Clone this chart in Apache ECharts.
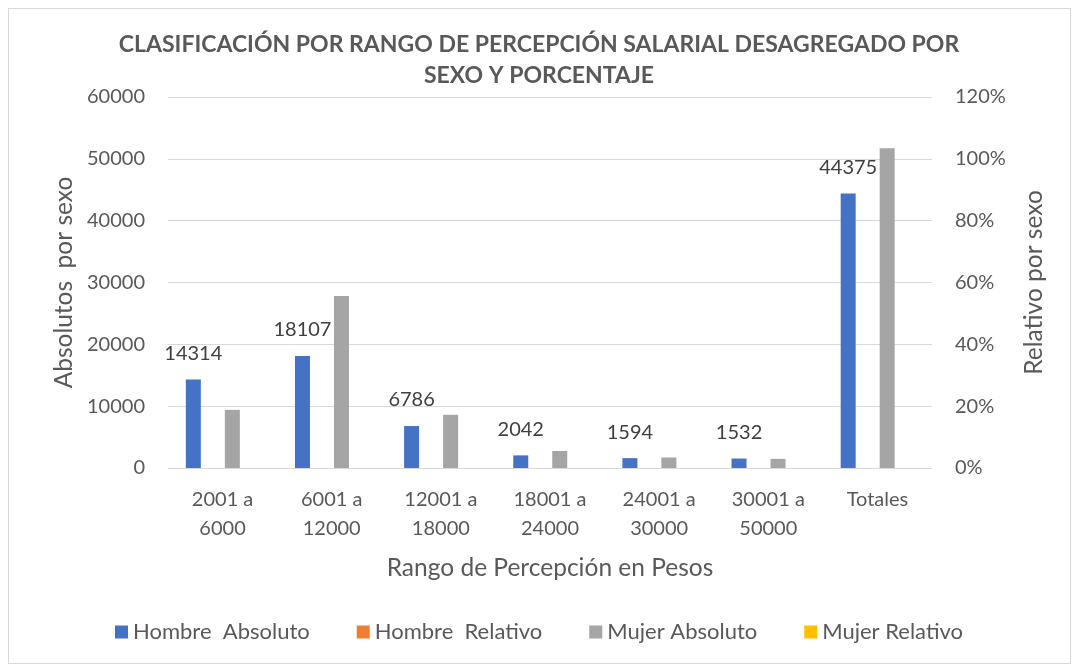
<!DOCTYPE html>
<html>
<head>
<meta charset="utf-8">
<script src="https://cdn.jsdelivr.net/npm/echarts@6/dist/echarts.min.js"></script>
<style>
  html, body { margin: 0; padding: 0; background: #fff; }
  #chart { width: 1078px; height: 671px; }
  .frame { position: absolute; left: 8px; top: 8px; width: 1061px; height: 654px; border: 1px solid #d9d9d9; pointer-events: none; }
</style>
</head>
<body>
<div id="chart"></div>
<div class="frame"></div>
<script>
// datos
var rangos = ['2001 a\n6000', '6001 a\n12000', '12001 a\n18000', '18001 a\n24000', '24001 a\n30000', '30001 a\n50000', 'Totales'];
var hombreAbsoluto = [14314, 18107, 6786, 2042, 1594, 1532, 44375];
var hombreRelativo = [0, 0, 0, 0, 0, 0, 0];
var mujerAbsoluto = [9400, 27800, 8600, 2750, 1700, 1480, 51700];
var mujerRelativo = [0, 0, 0, 0, 0, 0, 0];

var fuente = 'Lato';
var gris = '#595959';

var chart = echarts.init(document.getElementById('chart'));
chart.setOption({
  animation: false,
  textStyle: {fontFamily: fuente},
  title: {
    text: 'CLASIFICACIÓN POR RANGO DE PERCEPCIÓN SALARIAL DESAGREGADO POR\nSEXO Y PORCENTAJE',
    left: 'center',
    top: 24,
    textStyle: {fontFamily: fuente, fontSize: 23, fontWeight: 'bold', color: gris, lineHeight: 31}
  },
  legend: {
    bottom: 23,
    left: 'center',
    itemWidth: 13,
    itemHeight: 13,
    itemGap: 47,
    icon: 'rect',
    textStyle: {fontFamily: fuente, fontSize: 22, color: gris},
    data: ['Hombre  Absoluto', 'Hombre  Relativo', 'Mujer Absoluto', 'Mujer Relativo']
  },
  grid: {left: 168, right: 146, top: 97, bottom: 203},
  xAxis: {
    type: 'category',
    data: rangos,
    name: 'Rango de Percepción en Pesos',
    nameLocation: 'middle',
    nameGap: 88,
    nameTextStyle: {fontFamily: fuente, fontSize: 24.5, color: gris},
    axisLine: {lineStyle: {color: '#d9d9d9'}},
    axisTick: {show: false},
    axisLabel: {fontFamily: fuente, fontSize: 20, color: gris, lineHeight: 29, margin: 17, interval: 0}
  },
  yAxis: [{
    type: 'value',
    min: 0, max: 60000, interval: 10000,
    name: 'Absolutos  por sexo',
    nameLocation: 'middle',
    nameGap: 91,
    nameTextStyle: {fontFamily: fuente, fontSize: 24.5, color: gris},
    axisLabel: {fontFamily: fuente, fontSize: 20, color: gris, margin: 23,
      formatter: function (v) { return String(v); }},
    splitLine: {lineStyle: {color: '#d9d9d9'}}
  }, {
    type: 'value',
    min: 0, max: 1.2, interval: 0.2,
    name: 'Relativo por sexo',
    nameLocation: 'middle',
    nameGap: 90,
    nameTextStyle: {fontFamily: fuente, fontSize: 24.5, color: gris},
    axisLabel: {fontFamily: fuente, fontSize: 20, color: gris, margin: 23,
      formatter: function (v) { return Math.round(v * 100) + '%'; }},
    splitLine: {show: false}
  }],
  series: [{
    name: 'Hombre  Absoluto',
    type: 'bar',
    yAxisIndex: 0,
    barWidth: 15,
    barGap: '30%',
    itemStyle: {color: '#4472C4'},
    label: {show: true, position: 'top', distance: 16, fontFamily: fuente, fontSize: 20, color: '#404040'},
    data: hombreAbsoluto
  }, {
    name: 'Hombre  Relativo',
    type: 'bar',
    yAxisIndex: 1,
    barWidth: 15,
    barGap: '30%',
    itemStyle: {color: '#ED7D31'},
    data: hombreRelativo
  }, {
    name: 'Mujer Absoluto',
    type: 'bar',
    yAxisIndex: 0,
    barWidth: 15,
    barGap: '30%',
    itemStyle: {color: '#A5A5A5'},
    data: mujerAbsoluto
  }, {
    name: 'Mujer Relativo',
    type: 'bar',
    yAxisIndex: 1,
    barWidth: 15,
    barGap: '30%',
    itemStyle: {color: '#FFC000'},
    data: mujerRelativo
  }]
});
</script>
</body>
</html>
